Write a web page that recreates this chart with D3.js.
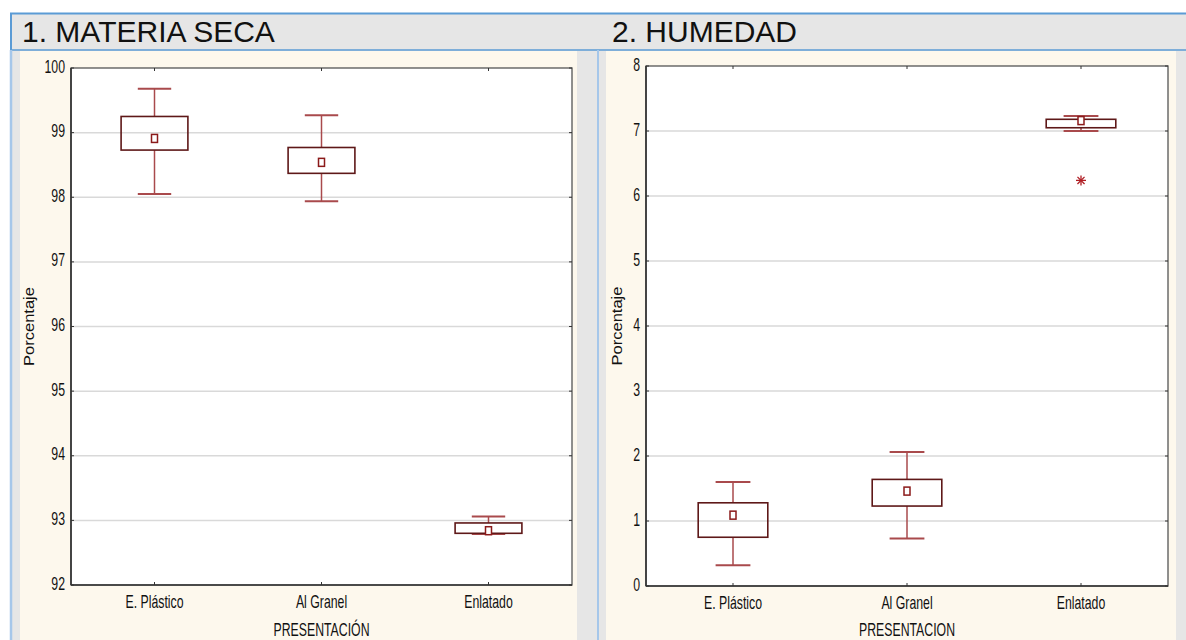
<!DOCTYPE html>
<html><head><meta charset="utf-8">
<script src="https://cdn.jsdelivr.net/npm/d3@7"></script>
<style>body{margin:0;background:#fff;}svg{display:block;}</style>
</head><body>
<svg id="c" width="1186" height="640"></svg>
<script>
// ---- data ----
const categories = ["E. Plástico", "Al Granel", "Enlatado"];

const msTicks = [92, 93, 94, 95, 96, 97, 98, 99, 100];
const msWhiskerLow  = [98.05, 97.94, 92.79];
const msQ1          = [98.73, 98.37, 92.80];
const msQ3          = [99.25, 98.77, 92.96];
const msWhiskerHigh = [99.68, 99.27, 93.06];
const msMean        = [98.91, 98.54, 92.84];
const msOutliers    = [];

const humTicks = [0, 1, 2, 3, 4, 5, 6, 7, 8];
const humWhiskerLow  = [0.32, 0.73, 7.00];
const humQ1          = [0.75, 1.23, 7.05];
const humQ3          = [1.28, 1.64, 7.18];
const humWhiskerHigh = [1.60, 2.06, 7.23];
const humMean        = [1.09, 1.46, 7.16];
const humOutliers    = [{cat: "Enlatado", value: 6.24}];

const titles = ["1. MATERIA SECA", "2. HUMEDAD"];
const yTitle = "Porcentaje";
const xTitles = ["PRESENTACIÓN", "PRESENTACION"];

// ---- drawing ----
const svg = d3.select("#c");
const FONT = "'Liberation Sans', Arial, sans-serif";
const SX = 0.82, SY = 1.18;

svg.append("rect").attr("x",0).attr("y",0).attr("width",1186).attr("height",640).attr("fill","#fff");
svg.append("rect").attr("x",10).attr("y",13).attr("width",1176).attr("height",627).attr("fill","#e6e6e6");
svg.append("rect").attr("x",20).attr("y",51).attr("width",557).attr("height",589).attr("fill","#fdf8ed");
svg.append("rect").attr("x",606).attr("y",51).attr("width",570).attr("height",589).attr("fill","#fdf8ed");
svg.append("line").attr("x1",10).attr("x2",1186).attr("y1",13.5).attr("y2",13.5).attr("stroke","#5b9bd5").attr("stroke-width",2);
svg.append("line").attr("x1",10).attr("x2",1186).attr("y1",50).attr("y2",50).attr("stroke","#5b9bd5").attr("stroke-width",1.5);
svg.append("line").attr("x1",11).attr("x2",11).attr("y1",13).attr("y2",50).attr("stroke","#5b9bd5").attr("stroke-width",2);
svg.append("line").attr("x1",11).attr("x2",11).attr("y1",50).attr("y2",640).attr("stroke","#a6c7ea").attr("stroke-width",2.5);
svg.append("line").attr("x1",598).attr("x2",598).attr("y1",50).attr("y2",640).attr("stroke","#a6c7ea").attr("stroke-width",2);

function txt(g, x, y, s, o) {
  o = o || {};
  const sx = o.sx == null ? SX : o.sx, sy = o.sy == null ? SY : o.sy;
  const rot = o.rotate ? " rotate(" + o.rotate + ")" : "";
  return g.append("text")
    .attr("transform", "translate(" + x + "," + y + ") scale(" + sx + "," + sy + ")" + rot)
    .attr("text-anchor", o.anchor || "middle")
    .attr("font-family", FONT)
    .attr("font-size", o.size || 15)
    .attr("fill", o.fill || "#1a1a1a")
    .text(s);
}

txt(svg, 22, 42, titles[0], {anchor:"start", size:30, sx:1, sy:1, fill:"#111"});
txt(svg, 612, 42, titles[1], {anchor:"start", size:30, sx:1, sy:1, fill:"#111"});

function panel(cfg) {
  const g = svg.append("g");
  const x = d3.scaleBand().domain(categories).range([cfg.x0, cfg.x1]).paddingInner(0).paddingOuter(0);
  const y = d3.scaleLinear().domain(d3.extent(cfg.ticks)).range([cfg.y1, cfg.y0]);
  const step = x.bandwidth();
  const cx = c => x(c) + step / 2;

  g.append("rect").attr("x", cfg.x0).attr("y", cfg.y0).attr("width", cfg.x1 - cfg.x0).attr("height", cfg.y1 - cfg.y0).attr("fill", "#fff");
  g.selectAll(".grid").data(cfg.ticks.slice(1, -1)).join("line")
    .attr("x1", cfg.x0).attr("x2", cfg.x1)
    .attr("y1", d => y(d)).attr("y2", d => y(d))
    .attr("stroke", "#d9d9d9").attr("stroke-width", 1.5);
  g.append("rect").attr("x", cfg.x0).attr("y", cfg.y0).attr("width", cfg.x1 - cfg.x0).attr("height", cfg.y1 - cfg.y0)
    .attr("fill", "none").attr("stroke", "#555").attr("stroke-width", 1.3);
  g.append("line").attr("x1", cfg.x0).attr("x2", cfg.x0).attr("y1", cfg.y0).attr("y2", cfg.y1).attr("stroke", "#333").attr("stroke-width", 1.6);
  g.append("line").attr("x1", cfg.x0).attr("x2", cfg.x1).attr("y1", cfg.y1).attr("y2", cfg.y1).attr("stroke", "#333").attr("stroke-width", 1.6);
  g.selectAll(".ytl").data(cfg.ticks).join("line")
    .attr("x1", cfg.x0).attr("x2", cfg.x0 + 3).attr("y1", d => y(d)).attr("y2", d => y(d)).attr("stroke", "#333");
  g.selectAll(".ytr").data(cfg.ticks).join("line")
    .attr("x1", cfg.x1 - 3).attr("x2", cfg.x1).attr("y1", d => y(d)).attr("y2", d => y(d)).attr("stroke", "#333");
  g.selectAll(".xtb").data(categories).join("line")
    .attr("x1", d => cx(d)).attr("x2", d => cx(d)).attr("y1", cfg.y1 - 3).attr("y2", cfg.y1).attr("stroke", "#333");
  g.selectAll(".xtt").data(categories).join("line")
    .attr("x1", d => cx(d)).attr("x2", d => cx(d)).attr("y1", cfg.y0).attr("y2", cfg.y0 + 3).attr("stroke", "#333");
  cfg.ticks.forEach(t => txt(g, cfg.x0 - 6, y(t) + 4.5, String(t), {anchor: "end", fill: "#111"}));
  categories.forEach(c => txt(g, cx(c), cfg.y1 + 23, c, {fill: "#111"}));
  txt(g, (cfg.x0 + cfg.x1) / 2, 636, cfg.xTitle, {fill: "#111"});
  txt(g, cfg.yLabelX, (cfg.y0 + cfg.y1) / 2, yTitle, {rotate: -90, size: 14, sx: 1, sy: 1.18, fill: "#111"});

  const boxW = step * 0.4, capW = step * 0.2;
  categories.forEach((c, i) => {
    const xc = cx(c);
    const wcol = "#a94a4c", bcol = "#5e1818";
    g.append("line").attr("x1", xc).attr("x2", xc).attr("y1", y(cfg.q3[i])).attr("y2", y(cfg.hi[i])).attr("stroke", wcol).attr("stroke-width", 1.5);
    g.append("line").attr("x1", xc).attr("x2", xc).attr("y1", y(cfg.q1[i])).attr("y2", y(cfg.lo[i])).attr("stroke", wcol).attr("stroke-width", 1.5);
    g.append("line").attr("x1", xc - capW / 2).attr("x2", xc + capW / 2).attr("y1", y(cfg.hi[i])).attr("y2", y(cfg.hi[i])).attr("stroke", wcol).attr("stroke-width", 2);
    g.append("line").attr("x1", xc - capW / 2).attr("x2", xc + capW / 2).attr("y1", y(cfg.lo[i])).attr("y2", y(cfg.lo[i])).attr("stroke", wcol).attr("stroke-width", 2);
    g.append("rect").attr("x", xc - boxW / 2).attr("y", y(cfg.q3[i])).attr("width", boxW).attr("height", y(cfg.q1[i]) - y(cfg.q3[i]))
      .attr("fill", "none").attr("stroke", bcol).attr("stroke-width", 1.6);
    g.append("rect").attr("x", xc - 3).attr("y", y(cfg.mean[i]) - 4).attr("width", 6).attr("height", 8)
      .attr("fill", "#fff").attr("stroke", "#8b1a1a").attr("stroke-width", 1.5);
  });
  cfg.outliers.forEach(o => {
    const xc = cx(o.cat), yc = y(o.value), r = 5;
    [0, 45, 90, 135].forEach(a => {
      const rad = a * Math.PI / 180;
      g.append("line").attr("x1", xc - r * Math.cos(rad)).attr("x2", xc + r * Math.cos(rad))
        .attr("y1", yc - r * Math.sin(rad)).attr("y2", yc + r * Math.sin(rad))
        .attr("stroke", "#b01e24").attr("stroke-width", 1.3);
    });
  });
}

panel({x0: 71, x1: 572, y0: 68, y1: 585, ticks: msTicks, lo: msWhiskerLow, q1: msQ1, q3: msQ3, hi: msWhiskerHigh,
       mean: msMean, outliers: msOutliers, xTitle: xTitles[0], yLabelX: 34});
panel({x0: 646, x1: 1168, y0: 66, y1: 586, ticks: humTicks, lo: humWhiskerLow, q1: humQ1, q3: humQ3, hi: humWhiskerHigh,
       mean: humMean, outliers: humOutliers, xTitle: xTitles[1], yLabelX: 622});
</script>
</body></html>
